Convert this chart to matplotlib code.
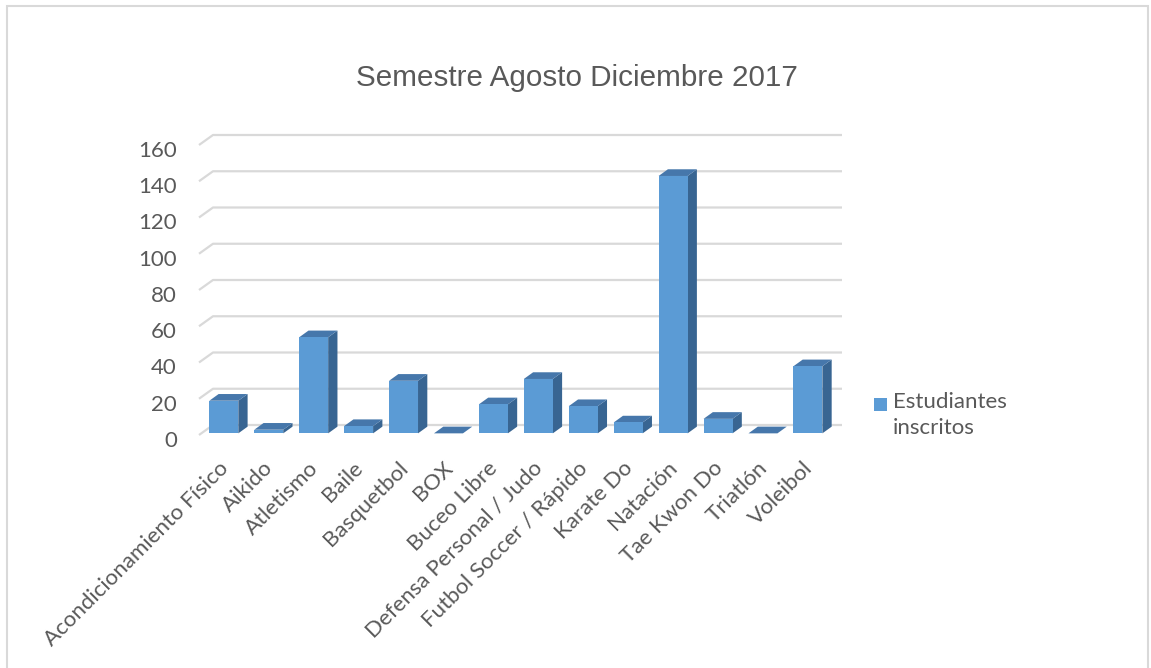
import matplotlib
matplotlib.use("Agg")
import matplotlib.pyplot as plt
from matplotlib.patches import Polygon, Rectangle

# Enrolled students per sport
categories = [
    "Acondicionamiento Físico", "Aikido", "Atletismo", "Baile", "Basquetbol",
    "BOX", "Buceo Libre", "Defensa Personal / Judo", "Futbol Soccer / Rápido",
    "Karate Do", "Natación", "Tae Kwon Do", "Triatlón", "Voleibol",
]
estudiantes = [18, 2, 53, 4, 29, 0, 16, 30, 15, 6, 142, 8, 0, 37]
yticks = [0, 20, 40, 60, 80, 100, 120, 140, 160]
title = "Semestre Agosto Diciembre 2017"
series_name = "Estudiantes\ninscritos"

W, H = 1151, 668
fig = plt.figure(figsize=(W / 100, H / 100), dpi=100)
fig.patch.set_facecolor("white")

# Front plane of the 3D plot area, in pixels
x0_px, x1_px = 199, 828
y0_px, y1_px = 435, 145
ax = fig.add_axes([x0_px / W, 1 - y0_px / H, (x1_px - x0_px) / W, (y0_px - y1_px) / H])
ax.set_xlim(-0.5, len(categories) - 0.5)
ax.set_ylim(0, 160)
ax.axis("off")

px_x = (x1_px - x0_px) / len(categories)   # pixels per category
px_y = (y0_px - y1_px) / 160.0             # pixels per unit

# Depth of walls and bars (converted to data units)
wall_dx, wall_dy = 14 / px_x, 10 / px_y
bar_dx, bar_dy = 9.3 / px_x, 6.7 / px_y
off_x, off_y = (wall_dx - bar_dx) / 2, (wall_dy - bar_dy) / 2
bar_w = 0.645

grid_c = "#d9d9d9"
text_c = "#595959"

# Back wall gridlines with the slanted side-wall stub
n = len(categories)
for v in yticks:
    ax.plot([-0.5, -0.5 + wall_dx, n - 0.5 + wall_dx], [v, v + wall_dy, v + wall_dy],
            color=grid_c, lw=1.6, clip_on=False, zorder=1, solid_capstyle="butt")

front_c = "#5b9bd5"
top_c = "#4677ab"
side_c = "#386592"

for i, v in enumerate(estudiantes):
    xl = i - bar_w / 2 + off_x
    xr = i + bar_w / 2 + off_x
    yb = off_y
    yt = v + off_y
    # side face
    ax.add_patch(Polygon([(xr, yb), (xr + bar_dx, yb + bar_dy), (xr + bar_dx, yt + bar_dy), (xr, yt)],
                         closed=True, facecolor=side_c, edgecolor="none", clip_on=False, zorder=3))
    # top face
    ax.add_patch(Polygon([(xl, yt), (xr, yt), (xr + bar_dx, yt + bar_dy), (xl + bar_dx, yt + bar_dy)],
                         closed=True, facecolor=top_c, edgecolor="none", clip_on=False, zorder=3))
    # front face
    if v > 0:
        ax.add_patch(Rectangle((xl, yb), bar_w, v, facecolor=front_c, edgecolor="none",
                               clip_on=False, zorder=4))

font = "Lato"
fs = 16
# Value axis labels
for v in yticks:
    ax.text(-0.5 - 22 / px_x, v - 3.3, str(v), ha="right", va="center", fontsize=fs,
            color=text_c, family=font, clip_on=False)

# Category labels
for i, name in enumerate(categories):
    ax.text(i + 0.08, -16.5, name, rotation=45, rotation_mode="anchor", ha="right", va="center",
            fontsize=fs, color=text_c, family=font, clip_on=False)

# Title
fig.text(577 / W, 1 - 78 / H, title, ha="center", va="center", fontsize=21.3,
         color=text_c, family="Liberation Sans")

# Legend
fig.patches.append(Rectangle((874 / W, 1 - 411 / H), 13 / W, 13 / H, transform=fig.transFigure,
                             facecolor=front_c, edgecolor="none"))
fig.text(893 / W, 1 - 392 / H, series_name, ha="left", va="top", fontsize=fs,
         color=text_c, family=font, linespacing=1.4)

# Chart border
fig.patches.append(Rectangle((7 / W, -0.05), 1141 / W, 1 - 6 / H + 0.05, transform=fig.transFigure,
                             facecolor="none", edgecolor=grid_c, lw=1.5))

fig.savefig("out.png", dpi=100, facecolor="white")
